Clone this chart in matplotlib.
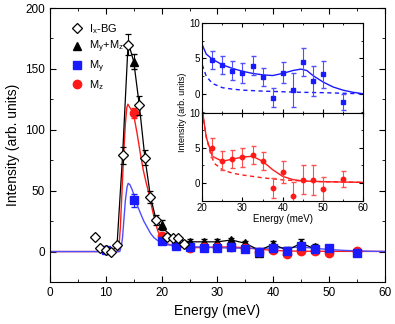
import matplotlib
matplotlib.use('Agg')
import matplotlib.pyplot as plt
from matplotlib.lines import Line2D
from matplotlib.ticker import MultipleLocator

plt.rcParams['font.family'] = ['Liberation Sans', 'DejaVu Sans']
plt.rcParams['mathtext.default'] = 'regular'

# I_x - background (open diamonds)
ix_E = [8, 9, 10, 11, 12, 13, 14, 16, 17, 18, 19, 21, 22, 23, 24]
ix_I = [12, 3, 1, 0, 5, 79, 170, 120, 77, 45, 26, 12, 11, 11, 6]
ix_err = [0, 0, 0, 0, 0, 7, 9, 7.5, 6, 5, 4, 0, 0, 0, 0]

# M_y + M_z (black triangles)
sum_E = [10, 15, 20, 22.5, 25, 27.5, 30, 32.5, 35, 37.5, 40, 42.5, 45, 47.5, 50, 55]
sum_I = [2, 156, 22, 10, 8, 8, 8, 9.5, 6.8, -1, 6, 0.8, 7, 3.5, 2, -0.5]
sum_err = [1, 6, 4, 2.5, 2, 2, 2, 2, 2, 2.5, 2.5, 3, 3, 3, 2.5, 2]

# M_y (blue squares) and M_z (red circles)
m_E = [10, 15, 20, 22.5, 25, 27.5, 30, 32.5, 35, 37.5, 40, 42.5, 45, 47.5, 50, 55]
my_I = [1.5, 42, 9, 4.8, 4.1, 3.3, 3.0, 4.0, 2.4, -0.5, 3.0, 0.6, 4.5, 1.9, 2.8, -1.1]
my_err = [1, 5, 2, 1.3, 1.25, 1.3, 1.4, 1.35, 1.2, 1.3, 1.5, 2.4, 2.0, 2.1, 1.9, 1.1]
mz_I = [1, 114, 13, 5.0, 3.2, 3.4, 3.7, 4.0, 3.1, -0.7, 1.6, -1.8, 0.5, 0.4, -0.8, 0.6]
mz_err = [1, 4, 2, 1.35, 1.35, 1.3, 1.35, 1.3, 1.25, 1.45, 1.55, 2.0, 2.0, 2.1, 1.7, 1.1]

# black guide line through the I_x / M_y+M_z points
guide_E = [10, 11, 12, 13, 14, 15, 16, 17, 18, 19, 20, 22.5, 25, 27.5, 30, 32.5, 35,
           37.5, 40, 42.5, 45, 47.5]
guide_I = [1, 0, 4.7, 79, 172, 156, 120, 77, 45, 26, 20, 10, 8, 8, 8, 9.5, 6.8,
           1, 6, 1, 7, 2]

# model curves
red_fit_E = [0, 12.3, 12.6, 12.9, 13.2, 13.5, 13.75, 13.95, 14.2, 14.6, 15, 15.6, 16.2,
             16.7, 17.2, 17.7, 18.2, 18.7, 19.3, 20, 21, 22.5, 25, 27.5, 30, 32.5, 35,
             37.5, 40, 42.5, 45, 50, 55, 60]
red_fit_I = [0, 0, 20, 50, 80, 105, 118, 121, 119, 116, 112, 97, 80,
             67, 57, 48, 37, 27, 17, 10.5, 6.5, 3.8, 3.1, 3.4, 3.7, 3.8, 3.1,
             1.9, 0.95, 0.5, 0.3, 0.2, 0.15, 0.1]
blue_fit_E = [0, 12.5, 12.8, 13.0, 13.2, 13.5, 13.8, 14.0, 14.3, 14.7, 15, 15.8, 16.2,
              16.8, 17.4, 18, 18.6, 19.3, 20, 21, 22.5, 25, 27.5, 30, 32.5, 35, 37.5,
              40, 42.5, 44.5, 46, 47.5, 50, 52.5, 55, 57.5, 60]
blue_fit_I = [0, 0, 5, 12, 24, 42, 53, 56, 55, 51, 47, 36, 31.5,
              25, 20, 15, 11.5, 9, 6.9, 5.6, 4.9, 4.1, 3.6, 3.2, 2.9, 2.7, 2.6,
              2.9, 3.3, 3.5, 3.3, 2.6, 1.7, 1.0, 0.55, 0.25, 0.05]
blue_bg_E = [20, 21, 22.5, 25, 27.5, 30, 35, 40, 45, 50, 55, 60]
blue_bg_I = [4.1, 2.5, 1.5, 0.9, 0.7, 0.56, 0.42, 0.33, 0.25, 0.2, 0.12, 0.05]
red_bg_E = [20, 21, 22, 23, 25, 27.5, 30, 35, 40, 45, 50, 55, 60]
red_bg_I = [10.1, 6.6, 4.3, 2.8, 1.9, 1.4, 1.15, 0.75, 0.45, 0.3, 0.2, 0.15, 0.1]

BLUE = '#1a1aff'
RED = '#ff1a1a'

fig = plt.figure(figsize=(3.95, 3.24), dpi=100)
ax = fig.add_axes([0.1266, 0.1296, 0.848, 0.8457])

ax.plot(red_fit_E, red_fit_I, color=RED, lw=1, zorder=2)
ax.plot(blue_fit_E, blue_fit_I, color='#4d4dff', lw=1, zorder=2)
ax.plot(guide_E, guide_I, color='black', lw=0.9, zorder=2)

ax.errorbar(sum_E, sum_I, yerr=sum_err, fmt='^', color='black', ms=6,
            capsize=2.5, elinewidth=0.8, zorder=3)
ax.errorbar(m_E, mz_I, yerr=mz_err, fmt='o', color=RED, ms=6,
            capsize=2.5, elinewidth=0.8, zorder=4)
ax.errorbar(m_E, my_I, yerr=my_err, fmt='s', color=BLUE, ms=5.5,
            capsize=2.5, elinewidth=0.8, zorder=5)
ax.errorbar(ix_E, ix_I, yerr=ix_err, fmt='D', color='black', mfc='white', mec='black',
            ms=5.5, mew=0.9, capsize=2.5, elinewidth=0.8, zorder=6)

ax.set_xlim(0, 60)
ax.set_ylim(-25, 200)
ax.xaxis.set_major_locator(MultipleLocator(10))
ax.xaxis.set_minor_locator(MultipleLocator(5))
ax.yaxis.set_major_locator(MultipleLocator(50))
ax.yaxis.set_minor_locator(MultipleLocator(25))
ax.tick_params(which='both', direction='in', top=True, right=True, labelsize=8.5)
ax.tick_params(which='major', length=4)
ax.tick_params(which='minor', length=2.5)
ax.set_xlabel('Energy (meV)', fontsize=10)
ax.set_ylabel('Intensity (arb. units)', fontsize=10)

handles = [
    Line2D([], [], ls='none', marker='D', mfc='white', mec='black', ms=5.5, mew=0.9),
    Line2D([], [], ls='none', marker='^', color='black', ms=6),
    Line2D([], [], ls='none', marker='s', color=BLUE, ms=5.5),
    Line2D([], [], ls='none', marker='o', color=RED, ms=6),
]
labels = [r'I$_x$-BG', r'M$_y$+M$_z$', r'M$_y$', r'M$_z$']
ax.legend(handles, labels, loc='upper left', bbox_to_anchor=(0.03, 0.985), frameon=False,
          fontsize=8, handletextpad=0.5, labelspacing=0.28, handlelength=1.2)

# inset: top (M_y) and bottom (M_z) panels
ax1 = fig.add_axes([0.512, 0.6522, 0.4076, 0.2778])
ax2 = fig.add_axes([0.512, 0.3806, 0.4076, 0.2716])

ax1.plot(blue_fit_E, blue_fit_I, color=BLUE, lw=1)
ax1.plot(blue_bg_E, blue_bg_I, color=BLUE, lw=1, ls='--', dashes=(3, 2.5))
ax1.errorbar(m_E[3:], my_I[3:], yerr=my_err[3:], fmt='s', color=BLUE, ecolor='#5050ff',
             ms=3, capsize=1.8, elinewidth=0.8)
ax2.plot(red_fit_E, red_fit_I, color=RED, lw=1)
ax2.plot(red_bg_E, red_bg_I, color=RED, lw=1, ls='--', dashes=(3, 2.5))
ax2.errorbar(m_E[3:], mz_I[3:], yerr=mz_err[3:], fmt='o', color=RED, ecolor='#ff5050',
             ms=3.2, capsize=1.8, elinewidth=0.8)

ax1.set_ylim(-2.6, 10)
ax2.set_ylim(-2.5, 10)
for a in (ax1, ax2):
    a.set_xlim(20, 60)
    a.xaxis.set_major_locator(MultipleLocator(10))
    a.xaxis.set_minor_locator(MultipleLocator(5))
    a.yaxis.set_major_locator(MultipleLocator(5))
    a.yaxis.set_minor_locator(MultipleLocator(2.5))
    a.tick_params(which='both', direction='in', top=True, right=True, labelsize=7, pad=1.5)
    a.tick_params(which='major', length=3)
    a.tick_params(which='minor', length=1.5)
ax1.tick_params(labelbottom=False)
ax2.set_xlabel('Energy (meV)', fontsize=7, labelpad=1)
fig.text(0.463, 0.654, 'Intensity (arb. units)', rotation=90, fontsize=6.5,
         ha='center', va='center')

fig.savefig('out.png', dpi=100)
